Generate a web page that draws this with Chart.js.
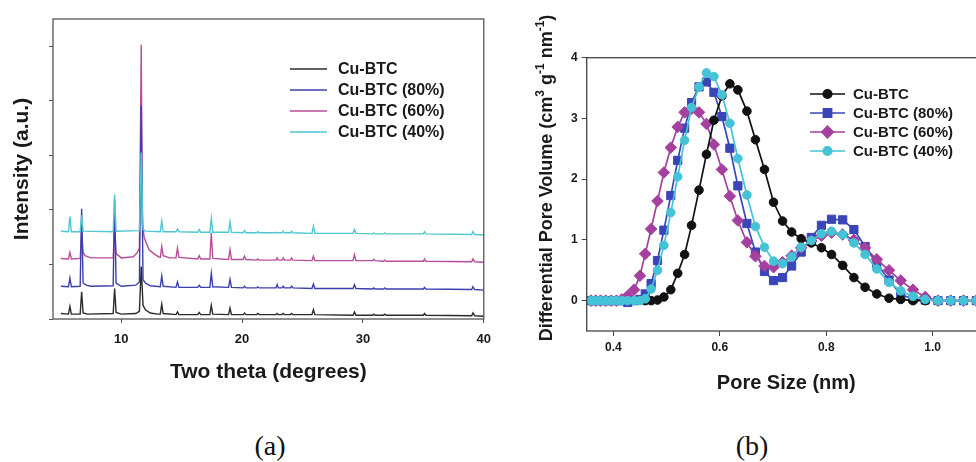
<!DOCTYPE html>
<html><head><meta charset="utf-8">
<script src="https://cdn.jsdelivr.net/npm/chart.js@4/dist/chart.umd.min.js"></script>
<style>
html,body{margin:0;padding:0;background:#fff;}
body{width:976px;height:462px;overflow:hidden;position:relative;}
#ca{position:absolute;left:0;top:0;}
#cb{position:absolute;left:500px;top:0;}
.cap{position:absolute;top:430px;font-family:"Liberation Serif","Times New Roman",serif;font-size:28px;width:80px;text-align:center;color:#111;}
</style></head><body>
<canvas id="ca" width="500" height="400"></canvas>
<canvas id="cb" width="500" height="420"></canvas>
<div class="cap" style="left:230px">(a)</div>
<div class="cap" style="left:712px">(b)</div>
<script>
// ---------- Panel (a): XRD patterns (2θ, intensity incl. stacking offset) ----------
const seriesLabels = ['Cu-BTC', 'Cu-BTC (80%)', 'Cu-BTC (60%)', 'Cu-BTC (40%)'];
const xrdTicksX = [10, 20, 30, 40];

const xrdCuBTC = [[5.0,0.10],[5.63,0.09],[5.75,0.23],[5.87,0.09],[6.6,0.09],[6.72,0.50],[6.84,0.11],[7.2,0.09],[9.33,0.10],[9.45,0.56],[9.57,0.12],[10.0,0.09],[11.2,0.10],[11.5,0.14],[11.65,0.96],[11.8,0.25],[12.0,0.17],[12.4,0.11],[13.0,0.09],[13.23,0.09],[13.35,0.27],[13.47,0.10],[14.53,0.08],[14.65,0.13],[14.77,0.08],[16.33,0.08],[16.45,0.12],[16.57,0.08],[17.33,0.08],[17.45,0.25],[17.57,0.09],[18.88,0.08],[19.0,0.20],[19.12,0.08],[20.08,0.08],[20.2,0.11],[20.32,0.08],[21.2,0.08],[21.3,0.10],[21.4,0.08],[22.8,0.08],[22.9,0.10],[23.0,0.08],[23.3,0.08],[23.4,0.10],[23.5,0.08],[24.0,0.08],[24.1,0.10],[24.2,0.08],[25.78,0.08],[25.9,0.17],[26.02,0.08],[29.18,0.07],[29.3,0.13],[29.42,0.07],[30.8,0.07],[30.9,0.09],[31.0,0.07],[31.7,0.07],[31.8,0.09],[31.9,0.07],[35.0,0.07],[35.1,0.10],[35.2,0.07],[39.0,0.06],[39.1,0.11],[39.25,0.06],[40.0,0.05]];
const xrdCuBTC80 = [[5.0,0.60],[5.63,0.59],[5.75,0.75],[5.87,0.59],[6.6,0.60],[6.72,2.02],[6.84,0.66],[7.1,0.62],[7.5,0.60],[9.33,0.61],[9.45,2.19],[9.57,0.66],[10.0,0.60],[11.2,0.62],[11.5,0.68],[11.65,3.91],[11.8,0.72],[12.0,0.66],[12.4,0.61],[13.23,0.59],[13.35,0.79],[13.47,0.60],[14.53,0.58],[14.65,0.68],[14.77,0.58],[16.33,0.58],[16.45,0.62],[16.57,0.58],[17.33,0.58],[17.45,0.84],[17.57,0.59],[18.88,0.58],[19.0,0.73],[19.12,0.58],[20.08,0.57],[20.2,0.60],[20.32,0.57],[21.2,0.57],[21.3,0.59],[21.4,0.57],[22.8,0.57],[22.9,0.63],[23.0,0.57],[23.3,0.57],[23.4,0.60],[23.5,0.57],[24.0,0.57],[24.1,0.60],[24.2,0.57],[25.78,0.56],[25.9,0.64],[26.02,0.56],[29.18,0.56],[29.3,0.63],[29.42,0.56],[30.8,0.55],[30.9,0.57],[31.0,0.55],[31.7,0.55],[31.8,0.57],[31.9,0.55],[35.0,0.55],[35.1,0.58],[35.2,0.55],[39.0,0.54],[39.1,0.59],[39.25,0.54],[40.0,0.53]];
const xrdCuBTC60 = [[5.0,1.11],[5.63,1.10],[5.75,1.22],[5.87,1.10],[6.6,1.11],[6.72,1.60],[6.84,1.22],[7.0,1.16],[7.5,1.12],[9.33,1.12],[9.45,1.72],[9.57,1.20],[10.0,1.12],[11.0,1.14],[11.3,1.21],[11.5,1.30],[11.65,5.03],[11.75,1.75],[11.9,1.49],[12.3,1.27],[12.8,1.18],[13.1,1.14],[13.23,1.13],[13.35,1.33],[13.47,1.16],[14.0,1.12],[14.53,1.12],[14.65,1.30],[14.77,1.13],[16.33,1.10],[16.45,1.16],[16.57,1.10],[17.33,1.10],[17.45,1.58],[17.57,1.11],[18.88,1.09],[19.0,1.27],[19.12,1.09],[20.08,1.09],[20.2,1.15],[20.32,1.09],[21.2,1.08],[21.3,1.10],[21.4,1.08],[22.8,1.08],[22.9,1.12],[23.0,1.08],[23.3,1.08],[23.4,1.12],[23.5,1.08],[24.0,1.08],[24.1,1.12],[24.2,1.08],[25.78,1.07],[25.9,1.15],[26.02,1.07],[29.18,1.07],[29.3,1.18],[29.42,1.07],[30.8,1.07],[30.9,1.09],[31.0,1.07],[31.7,1.06],[31.8,1.08],[31.9,1.06],[35.0,1.06],[35.1,1.10],[35.2,1.06],[39.0,1.05],[39.1,1.10],[39.25,1.05],[40.0,1.04]];
const xrdCuBTC40 = [[5.0,1.61],[5.63,1.60],[5.75,1.88],[5.87,1.60],[6.6,1.60],[6.72,1.90],[6.84,1.61],[9.33,1.60],[9.45,2.28],[9.57,1.61],[11.5,1.62],[11.65,3.05],[11.8,1.64],[12.0,1.61],[13.23,1.60],[13.35,1.80],[13.47,1.60],[14.53,1.60],[14.65,1.65],[14.77,1.60],[16.33,1.59],[16.45,1.64],[16.57,1.59],[17.33,1.59],[17.45,1.84],[17.57,1.59],[18.88,1.59],[19.0,1.78],[19.12,1.59],[20.08,1.58],[20.2,1.62],[20.32,1.58],[21.2,1.58],[21.3,1.60],[21.4,1.58],[22.8,1.58],[22.9,1.59],[23.0,1.58],[23.3,1.58],[23.4,1.61],[23.5,1.58],[24.0,1.58],[24.1,1.61],[24.2,1.58],[25.78,1.57],[25.9,1.70],[26.02,1.57],[29.18,1.57],[29.3,1.64],[29.42,1.57],[30.8,1.56],[30.9,1.58],[31.0,1.56],[31.7,1.56],[31.8,1.58],[31.9,1.56],[35.0,1.56],[35.1,1.60],[35.2,1.56],[39.0,1.55],[39.1,1.60],[39.25,1.55],[40.0,1.54]];

// ---------- Panel (b): pore size distribution ----------
const poreSize = [0.358,0.367,0.376,0.386,0.396,0.406,0.416,0.427,0.439,0.450,0.460,0.471,0.483,0.495,0.508,0.521,0.534,0.547,0.561,0.575,0.589,0.604,0.619,0.634,0.651,0.667,0.684,0.701,0.718,0.735,0.753,0.772,0.791,0.810,0.831,0.852,0.873,0.895,0.918,0.940,0.963,0.986,1.010,1.034,1.058,1.082];
const pvCuBTC   = [null,null,null,null,null,null,null,null,null,null,0.00,0.00,0.01,0.06,0.18,0.45,0.76,1.24,1.82,2.41,2.97,3.37,3.57,3.47,3.12,2.65,2.16,1.62,1.31,1.13,1.02,0.95,0.87,0.76,0.58,0.38,0.22,0.11,0.04,0.02,0.00,0.00,null,null,null,null];
const pvCuBTC80 = [0,0,0,0,0,0,0,-0.03,0,0.02,0.11,0.28,0.66,1.16,1.73,2.31,2.84,3.26,3.52,3.60,3.43,3.03,2.51,1.89,1.27,0.80,0.48,0.33,0.38,0.57,0.80,1.04,1.24,1.34,1.33,1.17,0.89,0.61,0.34,0.10,0.03,0.01,0,0,0,0];
const pvCuBTC60 = [0,0,0,0,0,0,0.02,0.08,0.18,0.41,0.77,1.18,1.64,2.11,2.52,2.86,3.10,3.16,3.10,2.91,2.57,2.16,1.72,1.32,0.96,0.73,0.57,0.55,0.63,0.74,0.87,0.98,1.07,1.12,1.09,1.00,0.87,0.68,0.50,0.33,0.18,0.06,0,0,0,0];
const pvCuBTC40 = [0,0,0,0,0,0,0,0,0,0,0.03,0.19,0.50,0.91,1.45,2.04,2.64,3.18,3.52,3.75,3.69,3.39,2.92,2.34,1.74,1.22,0.88,0.65,0.61,0.72,0.88,0.99,1.10,1.14,1.09,0.95,0.76,0.52,0.30,0.16,0.07,0.02,0,0,0,0];
const poreTicksX = [0.4, 0.6, 0.8, 1.0];
const poreTicksY = [0, 1, 2, 3, 4];
// y title of (b): [text, superscript?]
const poreYTitle = [['Differential Pore Volume (cm', false], ['3', true], [' g', false], ['-1', true], [' nm', false], ['-1', true], [')', false]];

const FONT = '"Liberation Sans", Arial, sans-serif';
Chart.defaults.font.family = FONT;
Chart.defaults.color = '#1a1a1a';

const toXY = arr => arr.map(p => ({x: p[0], y: p[1]}));
const pvXY = vals => poreSize.map((x, i) => ({x, y: vals[i]})).filter(p => p.y !== null);

const frame = (color) => ({
  id: 'frame',
  afterDatasetsDraw(chart) {
    const a = chart.chartArea, ctx = chart.ctx;
    ctx.save(); ctx.strokeStyle = color; ctx.lineWidth = 1.3;
    ctx.strokeRect(a.left, a.top, a.right - a.left, a.bottom - a.top);
    ctx.restore();
  }
});

const legendA = {
  id: 'legendA',
  afterDraw(chart) {
    const ctx = chart.ctx; ctx.save();
    chart.data.datasets.forEach((ds, i) => {
      const y = 69 + i * 21;
      ctx.strokeStyle = ds.borderColor; ctx.lineWidth = 1.6;
      ctx.beginPath(); ctx.moveTo(290, y); ctx.lineTo(327, y); ctx.stroke();
      ctx.fillStyle = '#1a1a1a'; ctx.font = 'bold 16px ' + FONT; ctx.textBaseline = 'middle';
      ctx.fillText(ds.label, 338, y + 1);
    });
    ctx.restore();
  }
};

const legendB = {
  id: 'legendB',
  afterDraw(chart) {
    const ctx = chart.ctx; ctx.save();
    chart.data.datasets.forEach((ds, i) => {
      const y = 94 + i * 19;
      ctx.strokeStyle = ds.borderColor; ctx.lineWidth = 1.6;
      ctx.beginPath(); ctx.moveTo(310, y); ctx.lineTo(345, y); ctx.stroke();
      ctx.fillStyle = ds.pointBackgroundColor; ctx.strokeStyle = ds.pointBackgroundColor;
      Chart.helpers.drawPoint(ctx, {pointStyle: ds.pointStyle, radius: ds.pointRadius, rotation: 0, borderWidth: 1}, 327.5, y);
      ctx.fillStyle = '#1a1a1a'; ctx.font = 'bold 15px ' + FONT; ctx.textBaseline = 'middle';
      ctx.fillText(ds.label, 353, y + 1);
    });
    ctx.restore();
  }
};

const yTitleB = {
  id: 'yTitleB',
  afterDraw(chart) {
    const ctx = chart.ctx; ctx.save();
    ctx.translate(47, 178); ctx.rotate(-Math.PI / 2);
    ctx.fillStyle = '#1a1a1a'; ctx.textBaseline = 'middle';
    const big = 'bold 18px ' + FONT, small = 'bold 12px ' + FONT;
    let total = 0;
    poreYTitle.forEach(([t, sup]) => { ctx.font = sup ? small : big; total += ctx.measureText(t).width; });
    let x = -total / 2;
    poreYTitle.forEach(([t, sup]) => {
      ctx.font = sup ? small : big;
      ctx.fillText(t, x, sup ? -6 : 0);
      x += ctx.measureText(t).width;
    });
    ctx.restore();
  }
};

// ---------- Chart (a) ----------
const colA = ['#2b2b2b', '#3b3fae', '#b84d9c', '#4fc6d2'];
new Chart(document.getElementById('ca'), {
  type: 'line',
  data: {
    datasets: [xrdCuBTC, xrdCuBTC80, xrdCuBTC60, xrdCuBTC40].map((d, i) => ({
      label: seriesLabels[i], data: toXY(d), borderColor: colA[i], backgroundColor: colA[i],
      borderWidth: 1.4, pointRadius: 0, tension: 0, fill: false, order: [3, 1, 2, 0][i]
    }))
  },
  options: {
    responsive: false, animation: false, devicePixelRatio: 1,
    layout: {padding: {left: 0, top: 19, right: 13, bottom: 11}},
    plugins: {legend: {display: false}, tooltip: {enabled: false}},
    scales: {
      x: {
        type: 'linear', min: 4.35, max: 40,
        afterBuildTicks: s => { s.ticks = xrdTicksX.map(v => ({value: v})); },
        ticks: {color: '#1a1a1a', font: {size: 13, weight: 'bold'}, padding: 9, maxRotation: 0, autoSkip: false},
        grid: {display: true, drawOnChartArea: false, drawTicks: true, tickLength: 4, color: '#555'},
        border: {display: false},
        title: {display: true, text: 'Two theta (degrees)', color: '#1a1a1a', font: {size: 21, weight: 'bold'}, padding: {top: 0, bottom: 4}},
        afterFit: s => { s.height = 70; }
      },
      y: {
        type: 'linear', min: 0, max: 5.5,
        ticks: {stepSize: 1, includeBounds: false, display: false},
        grid: {display: true, drawOnChartArea: false, drawTicks: true, tickLength: 4, color: '#555'},
        border: {display: false},
        title: {display: true, text: 'Intensity (a.u.)', color: '#1a1a1a', font: {size: 21, weight: 'bold'}, padding: {top: 10, bottom: 0}},
        afterFit: s => { s.width = 53; }
      }
    }
  },
  plugins: [frame('#555'), legendA]
});

// ---------- Chart (b) ----------
const colB = ['#111111', '#3a46b8', '#a5409f', '#45c3d6'];
const styleB = ['circle', 'rect', 'rectRot', 'circle'];
const radB = [4.3, 5.8, 5.8, 4.3];
new Chart(document.getElementById('cb'), {
  type: 'line',
  data: {
    datasets: [pvCuBTC, pvCuBTC80, pvCuBTC60, pvCuBTC40].map((d, i) => ({
      label: seriesLabels[i], data: pvXY(d), borderColor: colB[i], backgroundColor: colB[i],
      pointBackgroundColor: colB[i], pointBorderColor: colB[i], pointStyle: styleB[i], pointRadius: radB[i],
      pointBorderWidth: 1, borderWidth: 1.7, tension: 0, fill: false, order: [1, 3, 2, 0][i]
    }))
  },
  options: {
    responsive: false, animation: false, devicePixelRatio: 1,
    layout: {padding: {left: 0, top: 57.7, right: 14.1, bottom: 19}},
    plugins: {legend: {display: false}, tooltip: {enabled: false}},
    scales: {
      x: {
        type: 'linear', min: 0.35, max: 1.1,
        afterBuildTicks: s => { s.ticks = poreTicksX.map(v => ({value: v})); },
        ticks: {color: '#1a1a1a', font: {size: 12, weight: 'bold'}, padding: 4, maxRotation: 0, autoSkip: false, callback: v => v.toFixed(1)},
        grid: {display: true, drawOnChartArea: false, drawTicks: true, tickLength: 5, color: '#444'},
        border: {display: false},
        title: {display: true, text: 'Pore Size (nm)', color: '#1a1a1a', font: {size: 20, weight: 'bold'}, padding: {top: 0, bottom: 6}},
        afterFit: s => { s.height = 70; }
      },
      y: {
        type: 'linear', min: -0.5, max: 4,
        afterBuildTicks: s => { s.ticks = poreTicksY.map(v => ({value: v})); },
        ticks: {color: '#1a1a1a', font: {size: 12, weight: 'bold'}, padding: 4},
        grid: {display: true, drawOnChartArea: false, drawTicks: true, tickLength: 5, color: '#444'},
        border: {display: false},
        title: {display: false},
        afterFit: s => { s.width = 86.7; }
      }
    }
  },
  plugins: [frame('#444'), legendB, yTitleB]
});
</script>
</body></html>
